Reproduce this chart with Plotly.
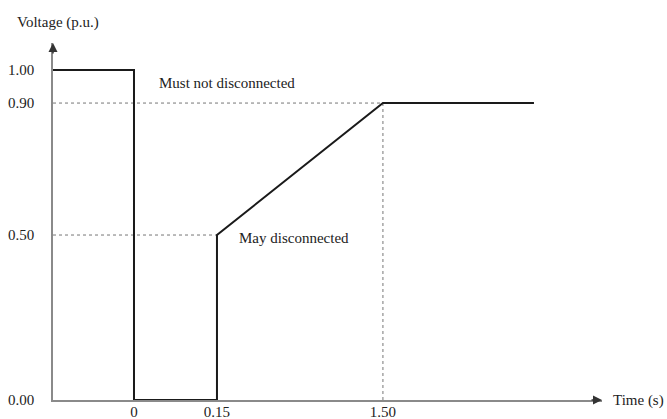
import plotly.graph_objects as go

# Schematic time axis: tick labels placed at schematic positions
tick_pos = [0, 1, 3]
tick_labels = ["0", "0.15", "1.50"]

# Voltage ticks
v_ticks = [0.0, 0.5, 0.9, 1.0]
v_labels = ["0.00", "0.50", "0.90", "1.00"]

# Main boundary curve (schematic x, voltage p.u.)
x_start = -0.976
x_end = 4.82
curve_x = [x_start, 0, 0, 1, 1, 3, x_end]
curve_v = [1.0, 1.0, 0.0, 0.0, 0.5, 0.9, 0.9]

# Dotted guide lines
guide_09_x = [x_start, 3]
guide_09_v = [0.9, 0.9]
guide_05_x = [x_start, 1]
guide_05_v = [0.5, 0.5]
guide_v_x = [3, 3]
guide_v_v = [0.0, 0.9]

FONT = "Liberation Serif"
TXT = "#222222"
AX = "#8a8a8a"
FS = 15

fig = go.Figure()
for gx, gv in [(guide_09_x, guide_09_v), (guide_05_x, guide_05_v), (guide_v_x, guide_v_v)]:
    fig.add_trace(go.Scatter(x=gx, y=gv, mode="lines",
                             line=dict(color="#777777", width=1, dash="dot"),
                             hoverinfo="skip", showlegend=False, cliponaxis=False))
fig.add_trace(go.Scatter(x=curve_x, y=curve_v, mode="lines",
                         line=dict(color="#1a1a1a", width=2),
                         showlegend=False, cliponaxis=False))

fig.add_annotation(x=0.28, y=0.96, text="Must not disconnected", showarrow=False,
                   xanchor="left", yanchor="middle", font=dict(family=FONT, size=FS, color=TXT))
fig.add_annotation(x=1.24, y=0.49, text="May disconnected", showarrow=False,
                   xanchor="left", yanchor="middle", font=dict(family=FONT, size=FS, color=TXT))

# axis arrows
fig.add_annotation(xref="paper", yref="paper", x=0, y=1, ax=0, ay=12, axref="pixel", ayref="pixel",
                   text="", showarrow=True, arrowhead=2, arrowsize=1.2, arrowwidth=1.5,
                   arrowcolor="#333333", standoff=0)
fig.add_annotation(xref="paper", yref="paper", x=1, y=0, ax=-12, ay=0, axref="pixel", ayref="pixel",
                   text="", showarrow=True, arrowhead=2, arrowsize=1.2, arrowwidth=1.5,
                   arrowcolor="#333333", standoff=0)

fig.add_annotation(xref="paper", yref="paper", x=1, y=0, xshift=9, text="Time (s)",
                   showarrow=False, xanchor="left", yanchor="middle",
                   font=dict(family=FONT, size=FS, color=TXT))
fig.add_annotation(xref="paper", yref="paper", x=0, y=1, xshift=-38, yshift=21,
                   text="Voltage (p.u.)", showarrow=False, xanchor="left", yanchor="middle",
                   font=dict(family=FONT, size=FS, color=TXT))

fig.update_layout(
    width=667, height=419,
    margin=dict(l=53, r=65, t=43, b=19),
    paper_bgcolor="white", plot_bgcolor="white",
    font=dict(family=FONT, size=FS, color=TXT),
    xaxis=dict(range=[x_start, 5.64], tickvals=tick_pos, ticktext=tick_labels,
               showgrid=False, zeroline=False, showline=True, linecolor=AX, linewidth=1.5,
               ticks="", ticklabelstandoff=-3, automargin=False, fixedrange=True),
    yaxis=dict(range=[0, 1.082], tickvals=v_ticks, ticktext=v_labels,
               showgrid=False, zeroline=False, showline=True, linecolor=AX, linewidth=1.5,
               ticks="", ticklabelstandoff=14, automargin=False, fixedrange=True),
    showlegend=False,
)

fig.write_html("out.html", config={"displayModeBar": False},
               post_script="document.body.style.margin='0';document.body.style.overflow='hidden';")
